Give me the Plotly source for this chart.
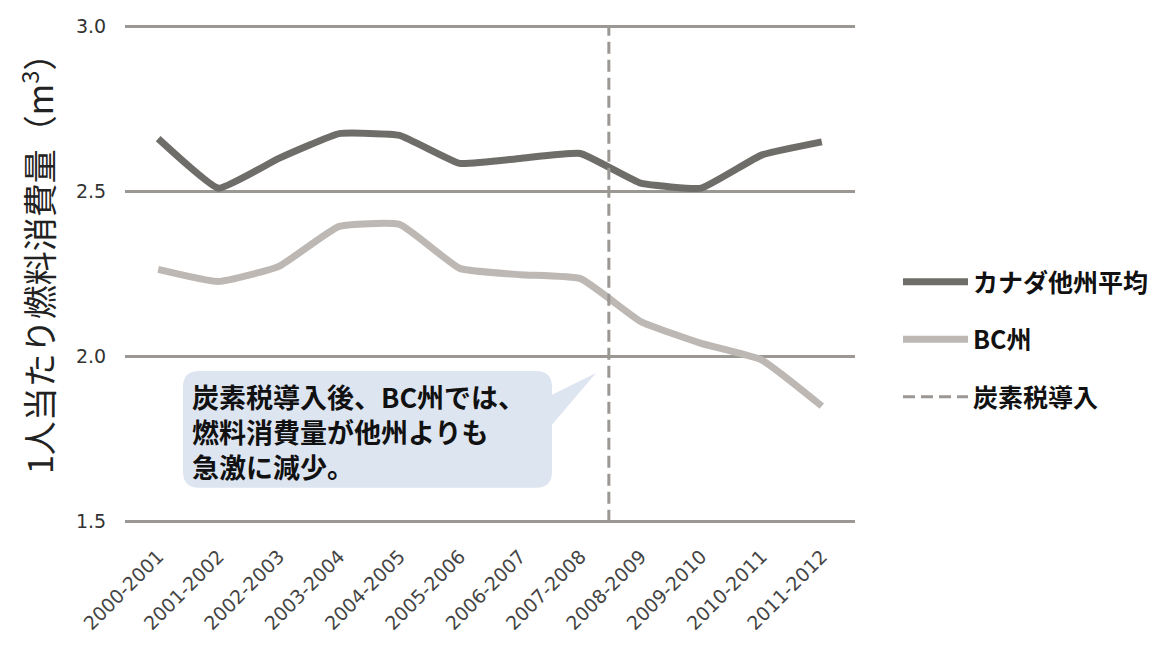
import plotly.graph_objects as go

categories = ["2000-2001", "2001-2002", "2002-2003", "2003-2004", "2004-2005", "2005-2006",
              "2006-2007", "2007-2008", "2008-2009", "2009-2010", "2010-2011", "2011-2012"]
canada_avg = [2.66, 2.51, 2.60, 2.675, 2.67, 2.585, 2.60, 2.615, 2.525, 2.51, 2.61, 2.65]
bc = [2.264, 2.227, 2.273, 2.394, 2.40, 2.267, 2.248, 2.236, 2.106, 2.04, 1.99, 1.85]
tax_position = 7.47  # between 2007-2008 and 2008-2009
y_ticks = [1.5, 2.0, 2.5, 3.0]
y_ticktext = ["1.5", "2.0", "2.5", "3.0"]
series_names = ["カナダ他州平均", "BC州", "炭素税導入"]
callout_text = "炭素税導入後、BC州では、<br>燃料消費量が他州よりも<br>急激に減少。"
y_title = "1人当たり燃料消費量（m<sup>3</sup>）"

W, H = 1157, 648
OFF = 8  # page body margin
# plot area in reference pixels (x: category -0.55..11.55, y: 1.5..3.0)
L, R, T, B = 125, 855, 26, 522
PAD = 0.01
ppu = (B - T) / 1.5
CJK = "Noto Sans CJK JP"
GRID = "#9b9792"

def px(x):
    return (x - L) / (R - L)

def py(y):
    top = T - PAD * ppu
    bot = B + PAD * ppu
    return (bot - y) / (bot - top)

xs = list(range(len(categories)))
fig = go.Figure()
fig.add_trace(go.Scatter(x=xs, y=canada_avg, mode="lines", name=series_names[0],
                         line=dict(color="#6f6d69", width=7, shape="spline", smoothing=0.35),
                         legendgroup="a"))
fig.add_trace(go.Scatter(x=xs, y=bc, mode="lines", name=series_names[1],
                         line=dict(color="#bdb8b4", width=7, shape="spline", smoothing=0.4),
                         legendgroup="b"))
fig.add_trace(go.Scatter(x=[tax_position, tax_position], y=[y_ticks[0], y_ticks[-1]], mode="lines",
                         name=series_names[2],
                         line=dict(color=GRID, width=3, dash="12px,6px"),
                         legendgroup="c"))

# callout bubble
l, r, t, b, rad = 183, 552, 371, 488, 16
tip = (596, 373)
pts = [
    f"M{px(l+rad)},{py(t)}",
    f"L{px(r-rad)},{py(t)}",
    f"Q{px(r)},{py(t)} {px(r)},{py(t+rad)}",
    f"L{px(r)},{py(395)}",
    f"L{px(tip[0])},{py(tip[1])}",
    f"L{px(r)},{py(425)}",
    f"L{px(r)},{py(b-rad)}",
    f"Q{px(r)},{py(b)} {px(r-rad)},{py(b)}",
    f"L{px(l+rad)},{py(b)}",
    f"Q{px(l)},{py(b)} {px(l)},{py(b-rad)}",
    f"L{px(l)},{py(t+rad)}",
    f"Q{px(l)},{py(t)} {px(l+rad)},{py(t)}",
    "Z",
]
fig.add_shape(type="path", xref="paper", yref="paper", path=" ".join(pts),
              fillcolor="#dde5f1", line=dict(width=0), layer="below")

fig.add_annotation(xref="paper", yref="paper", x=px(190), y=py(432), xanchor="left", yanchor="middle",
                   align="left", showarrow=False, text=callout_text,
                   font=dict(family=CJK, size=27, color="#111", weight=700))

fig.add_annotation(xref="paper", yref="paper", x=px(37), y=py(255), xanchor="center", yanchor="middle",
                   showarrow=False, textangle=-90, text=y_title,
                   font=dict(family=CJK, size=34, color="#222"))

fig.update_layout(
    width=W, height=H,
    margin=dict(l=L - OFF, r=W - (R - OFF), t=T - OFF - PAD * ppu, b=H - (B - OFF) - PAD * ppu,
                autoexpand=False),
    plot_bgcolor="white", paper_bgcolor="white",
    showlegend=True,
    legend=dict(x=px(898), y=py(259), xanchor="left", yanchor="top",
                font=dict(family=CJK, size=25, color="#111", weight=700),
                tracegroupgap=22, itemwidth=65, bgcolor="rgba(0,0,0,0)"),
    xaxis=dict(range=[-0.55, 11.55], tickmode="array", tickvals=xs, ticktext=categories,
               tickangle=-45, showgrid=False, zeroline=False, showline=False,
               ticks="outside", ticklen=12, tickcolor="rgba(0,0,0,0)",
               tickfont=dict(family="DejaVu Sans", size=19, color="#444")),
    yaxis=dict(range=[1.5 - PAD, 3.0 + PAD], tickmode="array", tickvals=y_ticks, ticktext=y_ticktext,
               showgrid=True, gridcolor=GRID, gridwidth=3, zeroline=False, showline=False,
               ticks="outside", ticklen=14, tickcolor="rgba(0,0,0,0)",
               tickfont=dict(family="DejaVu Sans", size=19, color="#333")),
)

fig.write_html("out.html")
